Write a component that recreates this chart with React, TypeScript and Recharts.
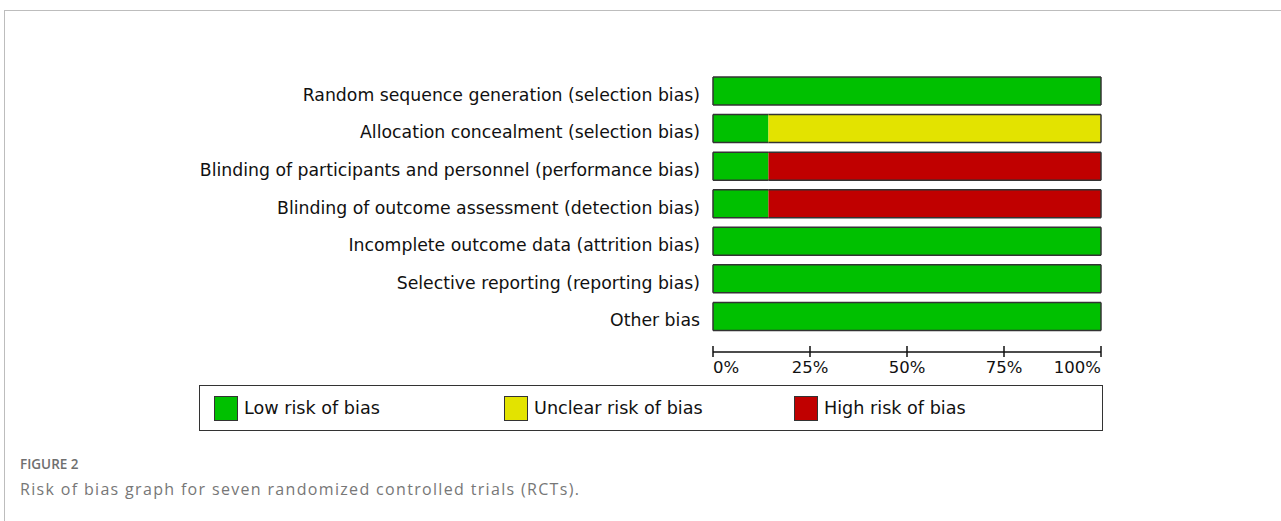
import { BarChart, Bar, XAxis, YAxis, Legend } from 'recharts'

const domains = [
  'Random sequence generation (selection bias)',
  'Allocation concealment (selection bias)',
  'Blinding of participants and personnel (performance bias)',
  'Blinding of outcome assessment (detection bias)',
  'Incomplete outcome data (attrition bias)',
  'Selective reporting (reporting bias)',
  'Other bias',
]
const lowRisk = [100, 14.29, 14.29, 14.29, 100, 100, 100]
const unclearRisk = [0, 85.71, 0, 0, 0, 0, 0]
const highRisk = [0, 0, 85.71, 85.71, 0, 0, 0]
const percentTicks = [0, 25, 50, 75, 100]

const seriesKeys = ['low', 'unclear', 'high']
const seriesNames = ['Low risk of bias', 'Unclear risk of bias', 'High risk of bias']
const seriesColors = ['#00c000', '#e3e300', '#c00000']

const data = domains.map((name, i) => ({
  name,
  low: lowRisk[i],
  unclear: unclearRisk[i],
  high: highRisk[i],
}))

const FONT = '"DejaVu Sans", Verdana, sans-serif'
const EDGE = '#333333'

// stacked segment: only the outer outline of the whole row gets a border
function segmentShape(idx: number) {
  return (p: any) => {
    const { x, y, width, height, payload, fill } = p
    if (!width || width <= 0) return <g />
    const vals = seriesKeys.map((k) => payload[k])
    const first = vals.slice(0, idx).every((v: number) => v === 0)
    const last = vals.slice(idx + 1).every((v: number) => v === 0)
    const r = x + width
    const b = y + height
    return (
      <g>
        <rect x={x} y={y} width={width} height={height} fill={fill} />
        <line x1={x} x2={r} y1={y} y2={y} stroke={EDGE} strokeWidth={1.5} />
        <line x1={x} x2={r} y1={b} y2={b} stroke={EDGE} strokeWidth={1.5} />
        {first && <line x1={x} x2={x} y1={y} y2={b} stroke={EDGE} strokeWidth={1.5} />}
        {last && <line x1={r} x2={r} y1={y} y2={b} stroke={EDGE} strokeWidth={1.5} />}
      </g>
    )
  }
}

function PercentTick(props: any) {
  const { x, y, payload, index } = props
  const anchor = index === 0 ? 'start' : index === percentTicks.length - 1 ? 'end' : 'middle'
  return (
    <g>
      <line x1={x} x2={x} y1={y - 6} y2={y + 5} stroke="#111" strokeWidth={1.5} />
      <text x={x} y={y + 21} textAnchor={anchor} fontSize={16.5} fontFamily={FONT} fill="#111">
        {payload.value}%
      </text>
    </g>
  )
}

function LegendBox() {
  return (
    <div style={{
      boxSizing: 'border-box', width: 904, height: 46, border: `1.5px solid ${EDGE}`,
      display: 'flex', alignItems: 'center', paddingLeft: 14, background: '#fff',
    }}>
      {seriesNames.map((n, i) => (
        <div key={n} style={{ width: 290, display: 'flex', alignItems: 'center' }}>
          <span style={{
            display: 'inline-block', boxSizing: 'border-box', width: 24, height: 25,
            background: seriesColors[i], border: `1.5px solid ${EDGE}`, marginRight: 6,
          }} />
          <span style={{ fontFamily: FONT, fontSize: 17.6, color: '#111' }}>{n}</span>
        </div>
      ))}
    </div>
  )
}

export default function App() {
  return (
    <div style={{ position: 'absolute', left: 0, top: 0, width: 1281, height: 521, background: '#fff', overflow: 'hidden' }}>
      <div style={{
        position: 'absolute', left: 4, top: 10, width: 1290, height: 530,
        borderTop: '1px solid #bdbdbd', borderLeft: '1px solid #bdbdbd',
      }} />
      <div style={{ position: 'absolute', left: 0, top: 0 }}>
        <BarChart
          width={1281}
          height={521}
          data={data}
          layout="vertical"
          margin={{ top: 72, right: 180, bottom: 129, left: 213 }}
        >
          <YAxis
            type="category"
            dataKey="name"
            width={500}
            axisLine={false}
            tickLine={false}
            tickSize={6}
            tickMargin={7}
            padding={{ top: 0, bottom: 17 }}
            tick={{ fontSize: 17.3, fill: '#111', fontFamily: FONT, dy: 4 }}
            interval={0}
          />
          <XAxis
            type="number"
            domain={[0, 100]}
            ticks={percentTicks}
            height={40}
            tickSize={0}
            tickMargin={0}
            tickLine={false}
            axisLine={{ stroke: '#111', strokeWidth: 1.5 }}
            tick={<PercentTick />}
          />
          <Legend
            layout="horizontal"
            verticalAlign="middle"
            align="center"
            wrapperStyle={{ left: 199, top: 385, width: 904, height: 46 }}
            content={() => <LegendBox />}
          />
          {seriesKeys.map((k, i) => (
            <Bar
              key={k}
              dataKey={k}
              name={seriesNames[i]}
              stackId="rob"
              fill={seriesColors[i]}
              barSize={28}
              isAnimationActive={false}
              shape={segmentShape(i)}
            />
          ))}
        </BarChart>
      </div>
      <div style={{ position: 'absolute', left: 20, top: 455, fontFamily: '"Open Sans", sans-serif', fontSize: 13.5, fontWeight: 600, color: '#6f6f6f' }}>
        FIGURE 2
      </div>
      <div style={{ position: 'absolute', left: 20, top: 478, fontFamily: '"Open Sans", sans-serif', fontSize: 16, letterSpacing: 1.33, color: '#777' }}>
        Risk of bias graph for seven randomized controlled trials (RCTs).
      </div>
    </div>
  )
}
